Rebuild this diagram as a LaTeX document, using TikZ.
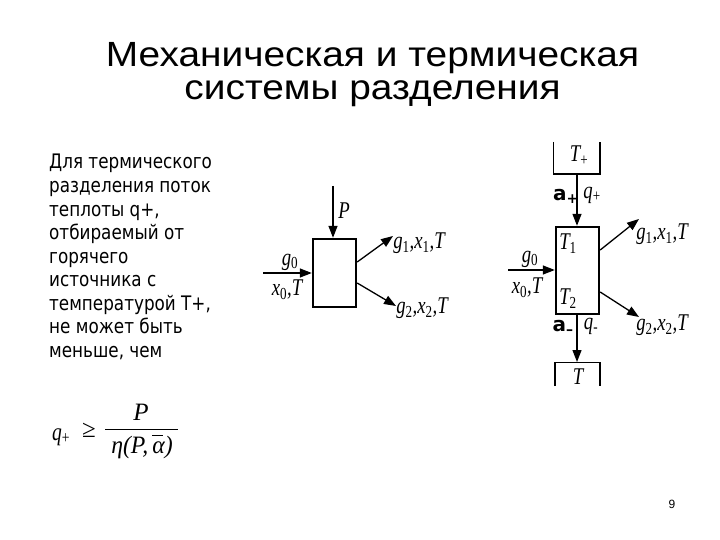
\documentclass[tikz,border=0pt]{standalone}
\usepackage{fontspec}
\setmainfont{Liberation Sans}
\newfontfamily\bodyf{DejaVu Sans}
\newfontfamily\tm{Liberation Serif}
\usetikzlibrary{arrows.meta}
\newcommand{\lsub}[1]{\textsubscript{\tm\upshape #1}}
\newcommand{\mt}[1]{\scalebox{0.78}[1]{#1}}
\newcommand{\bt}[1]{\scalebox{0.84}[1]{#1}}
\newcommand{\ttl}[1]{\scalebox{1.11}[1]{#1}}
\tikzset{
  x=1pt, y=-1pt,
  titletext/.style={inner sep=0pt, anchor=base, font=\fontsize{35}{37}\selectfont},
  bodytext/.style={inner sep=0pt, anchor=base west, font=\bodyf\fontsize{20}{22}\selectfont},
  lab/.style={inner sep=0pt, font=\tm\itshape\fontsize{24}{26}\selectfont},
  albl/.style={inner sep=0pt, font=\bodyf\bfseries\fontsize{20}{22}\selectfont},
  unitbox/.style={draw, line width=2.4pt},
  flow/.style={line width=1.3pt, -{Triangle[length=12pt, width=9pt]}},
  wall/.style={line width=1.3pt},
}
\begin{document}
\begin{tikzpicture}
\useasboundingbox (0,0) rectangle (720,540);
\fill[white] (0,0) rectangle (720,540);
% title
\node[titletext] (t1) at (372.5,67) {\ttl{Механическая и термическая}};
\node[titletext] (t2) at (372.5,100) {\ttl{системы разделения}};
% body text
\node[bodytext] (b1) at (49,169) {\bt{Для термического}};
\node[bodytext] (b2) at (49,192.5) {\bt{разделения поток}};
\node[bodytext] (b3) at (49,216) {\bt{теплоты q+,}};
\node[bodytext] (b4) at (49,239.5) {\bt{отбираемый от}};
\node[bodytext] (b5) at (49,263) {\bt{горячего}};
\node[bodytext] (b6) at (49,286.5) {\bt{источника с}};
\node[bodytext] (b7) at (49,310) {\bt{температурой Т+,}};
\node[bodytext] (b8) at (49,333.5) {\bt{не может быть}};
\node[bodytext] (b9) at (49,357) {\bt{меньше, чем}};
% formula
\node[lab, anchor=base west, font=\tm\itshape\fontsize{25}{27}\selectfont] (fq) at (52,440) {\mt{q\lsub{+}}};
\node[lab, anchor=base, font=\tm\fontsize{25}{27}\selectfont] (fge) at (89,437) {≥};
\draw[line width=0.9pt] (105,429.5) coordinate (fl) -- (178,429.5) coordinate (fr);
\node[lab, anchor=base, font=\tm\itshape\fontsize{25}{27}\selectfont] (fP) at (141,420) {P};
\node[lab, anchor=base, font=\tm\itshape\fontsize{25}{27}\selectfont] (fd) at (142,453) {\scalebox{0.95}[1]{η(P,\,\rlap{\rule[17pt]{11pt}{0.8pt}}α)}};
% diagram 1
\node[unitbox, minimum width=43pt, minimum height=68pt, inner sep=0pt] (m) at (334.5,273) {};
\coordinate (mP) at (333,186);
\coordinate (mIn) at (263,273);
\coordinate (mO1) at (393,236);
\coordinate (mO2) at (396,306);
\draw[flow] (mP) -- (m.north -| mP);
\draw[flow] (mIn) -- (m.west);
\draw[flow] (m.east |- 0,262) -- (mO1);
\draw[flow] (m.east |- 0,283) -- (mO2);
\node[lab] (mPl) at (344,211) {\mt{P}};
\node[lab] (mg0) at (290,262) {\mt{g\lsub{0}}};
\node[lab] (mx0) at (287,290) {\mt{x\lsub{0},T}};
\node[lab] (mg1) at (419,243) {\mt{g\lsub{1},x\lsub{1},T}};
\node[lab] (mg2) at (422,308) {\mt{g\lsub{2},x\lsub{2},T}};
% diagram 2
\node[unitbox, minimum width=43pt, minimum height=87pt, inner sep=0pt] (h) at (577.5,270.5) {};
\coordinate (rt1) at (553.5,142);
\coordinate (rt2) at (553.5,174);
\coordinate (rt3) at (600,174);
\coordinate (rt4) at (600,142);
\draw[wall] (rt1) -- (rt2) -- (rt3) -- (rt4);
\coordinate (rb1) at (555,386);
\coordinate (rb2) at (555,362.5);
\coordinate (rb3) at (600,362.5);
\coordinate (rb4) at (600,386);
\draw[wall] (rb1) -- (rb2) -- (rb3) -- (rb4);
\draw[flow] (577,174) -- (h.north -| 577,0);
\draw[flow] (h.south -| 577,0) -- (577,362);
\coordinate (hIn) at (508,270);
\coordinate (hO1) at (639,219);
\coordinate (hO2) at (639,317);
\draw[flow] (hIn) -- (h.west |- hIn);
\draw[flow] (h.east |- 0,250) -- (hO1);
\draw[flow] (h.east |- 0,292) -- (hO2);
\node[lab] (hTp) at (579,156) {\mt{T\lsub{+}}};
\node[albl] (hap) at (566,196) {a\textsubscript{\bodyf\bfseries +}};
\node[lab] (hqp) at (592,195) {\mt{q\lsub{+}}};
\node[lab] (hT1) at (568,244) {\mt{T\lsub{1}}};
\node[lab] (hT2) at (568,299) {\mt{T\lsub{2}}};
\node[albl] (ham) at (563,327) {a\textsubscript{\bodyf\bfseries –}};
\node[lab] (hqm) at (591,326) {\mt{q\lsub{-}}};
\node[lab] (hT) at (578,377) {\mt{T}};
\node[lab] (hg0) at (530,259) {\mt{g\lsub{0}}};
\node[lab] (hx0) at (527,288) {\mt{x\lsub{0},T}};
\node[lab] (hg1) at (662,234) {\mt{g\lsub{1},x\lsub{1},T}};
\node[lab] (hg2) at (662,325) {\mt{g\lsub{2},x\lsub{2},T}};
% page number
\node[inner sep=0pt, anchor=base, font=\fontsize{12}{14}\selectfont] (pn) at (672,508) {9};
\end{tikzpicture}
\end{document}
